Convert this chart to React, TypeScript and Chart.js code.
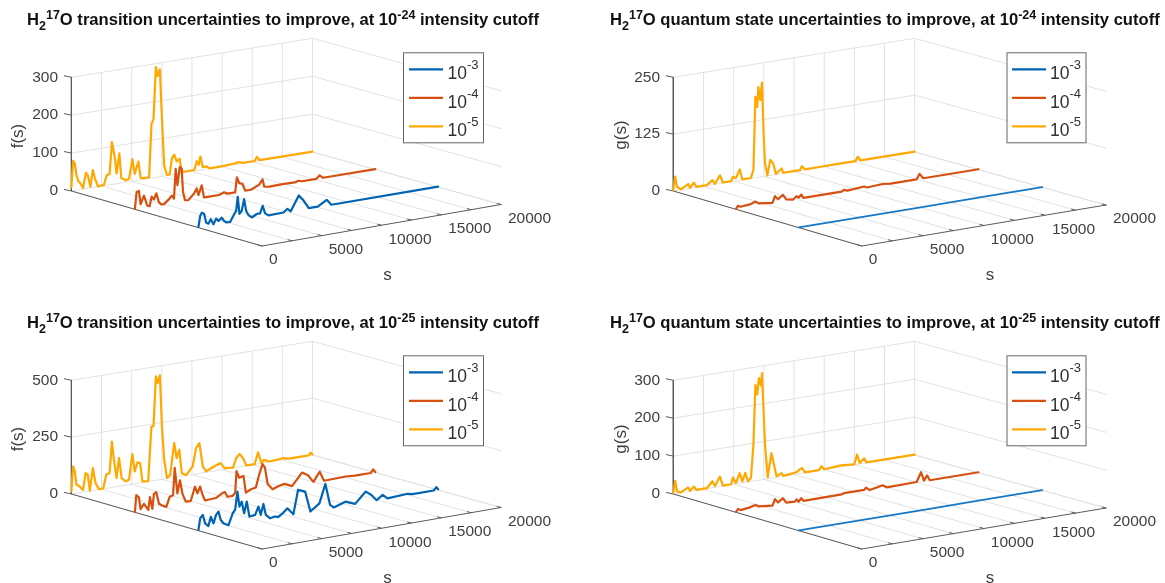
import React, { useEffect, useRef } from "react";
import { Chart, registerables } from "chart.js";
Chart.register(...registerables);

const S_MAX = 20000;
const S_GRID = [0, 2500, 5000, 7500, 10000, 12500, 15000, 17500, 20000];
const S_LABELS = [0, 5000, 10000, 15000, 20000];
const LEGEND_LABELS = ["-3", "-4", "-5"];
const COLORS = ["#0064B4", "#D8500F", "#FFA800"];
const FLAT_BLUE = "#1478C8";

// ---- Panel 1: transitions, 1e-24 ----
const p1BlueS = [0,140,280,470,640,830,1030,1250,1470,1670,1950,2140,2360,2640,2970,3140,3280,3420,3610,3810,3980,4170,4450,4860,5140,5360,5560,5840,7100,7420,7700,8370,8760,9200,9950,10700,11090,20000];
const p1BlueV = [2,30,38,34,10,6,17,2,16,9,16,6,1,1,19,27,64,18,25,55,23,11,3,10,10,29,8,1,2,10,2,40,25,2,2,16,1,1];
const p1RedS = [0,140,330,470,750,1030,1220,1390,1580,1780,2000,2220,2420,2840,3060,3250,3390,3530,3730,3890,4000,4170,4450,4920,5140,5280,5560,5750,6030,7000,7420,7700,8340,8480,8670,8950,9170,9650,10340,10620,10760,11180,12290,13300,13590,13900,15100,15370,15650,20000];
const p1RedV = [2,45,47,11,32,4,2,26,18,33,8,1,1,12,20,11,89,45,92,87,25,2,1,16,28,10,34,1,1,1,6,1,1,40,24,20,1,1,11,23,3,1,2,1,4,1,1,9,1,1];
const p1YellowS = [0,140,280,420,560,750,970,1200,1360,1580,1780,1950,2200,2700,2920,3170,3360,3590,3750,3980,4140,4500,4780,5060,5250,5560,5750,6030,6450,6640,6810,7010,7150,7340,7510,7700,7920,8150,8340,8530,8730,8980,9150,10200,10400,10560,10700,10900,11230,11450,12430,13540,13800,14230,15200,15400,15600,17430,20000];
const p1YellowV = [10,79,71,40,24,16,3,42,35,3,46,23,1,2,26,29,112,72,27,79,13,5,7,58,18,49,5,3,3,142,154,291,267,283,155,26,2,2,43,52,33,39,3,3,25,15,36,7,7,1,1,3,5,1,1,11,1,1,1];

// ---- Panel 2: quantum states, 1e-24 ----
const p2BlueS = [0,5000,10000,15000,20000];
const p2BlueV = [0.5,0.5,0.5,0.5,0.5];
const p2RedS = [0,155,370,1140,1300,1610,1850,3000,3210,3460,3860,4140,4700,5000,5160,5380,5560,8710,8900,9180,10570,10800,12100,12730,14900,15140,15450,20000];
const p2RedV = [1,7,4,6,7,10,5,1,15,7,15,4,1,7,3,9,1,1,4,1,4,1,3,1,1,12,1,1];
const p2YellowS = [0,155,310,620,1240,1390,1700,1920,2780,3240,3460,3860,4110,4790,4940,5190,5500,5720,6430,6640,6800,6950,7050,7200,7350,7480,7600,7790,8030,8280,8500,8960,9120,10500,10660,10900,12200,13900,15080,15300,15500,20000];
const p2YellowV = [2,31,8,1,10,1,11,1,1,10,1,18,1,1,10,6,24,1,1,18,178,155,198,169,207,95,28,1,34,25,1,11,1,1,9,1,1,1,1,10,1,1];

// ---- Panel 3: transitions, 1e-25 ----
const p3BlueS = [0,140,360,560,830,1030,1250,1470,1670,1860,2080,2500,2860,3060,3250,3420,3610,3810,4030,4250,4730,5000,5200,5420,5620,5980,6370,6670,7090,7420,7920,8310,8900,9340,10090,10590,10980,11290,12260,13070,13960,14430,14870,15370,15760,17460,17850,19630,19850,20000];
const p3BlueV = [3,53,66,27,13,52,21,56,69,30,14,1,51,64,143,75,95,42,92,24,27,61,23,69,19,1,5,1,16,32,1,105,92,1,30,111,15,1,18,1,47,28,1,20,1,6,1,1,14,3];
const p3RedS = [0,110,330,470,750,1110,1250,1450,1580,1780,2000,2280,2610,2890,3170,3310,3530,3750,3950,4230,4640,5000,5200,5420,5620,5840,6730,7280,7480,7700,8120,8340,8450,8670,9030,9230,9650,10060,10340,10620,10810,11040,11450,12010,12450,13070,13900,14400,14850,15370,15730,17540,18300,19620,19820,20000];
const p3RedV = [1,75,63,10,31,1,56,3,67,73,20,10,1,43,47,167,52,108,48,10,9,69,38,66,28,1,4,21,24,1,1,13,107,76,81,6,17,21,77,119,103,28,1,12,16,1,53,37,4,44,1,4,1,1,15,2];
const p3YellowS = [0,140,280,420,610,810,970,1170,1360,1530,1780,2000,2280,2640,2890,3170,3360,3530,3750,3950,4170,4500,4780,5060,5250,5480,5700,5890,6370,6640,6810,7010,7150,7340,7510,7700,7920,8200,8420,8530,8730,8950,9150,9510,10060,10340,10620,10900,11180,11870,12370,12700,13400,13680,13960,14230,14510,15200,15480,15760,15960,16430,17540,18040,19680,19850,20000];
const p3YellowV = [12,120,97,37,31,19,10,82,73,2,99,31,2,2,60,65,202,120,38,125,34,17,22,132,54,92,87,5,2,240,239,457,427,459,233,85,3,14,108,151,83,118,14,1,35,113,133,28,4,20,30,5,1,41,57,36,1,1,50,1,13,2,7,1,1,12,2];

// ---- Panel 4: quantum states, 1e-25 ----
const p4BlueS = [0,5000,10000,15000,20000];
const p4BlueV = [0.5,0.5,0.5,0.5,0.5];
const p4RedS = [0,155,370,1140,1300,1610,1850,3000,3210,3460,3860,4140,4850,5000,5160,5380,5560,8710,8900,10570,10720,11030,12100,12420,14900,15260,15510,15760,15980,20000];
const p4RedV = [1,8,4,7,9,11,6,2,18,8,17,4,3,8,1,9,1,2,4,4,9,1,8,1,2,26,2,15,1,1];
const p4YellowS = [0,155,310,620,1240,1390,1700,1920,2780,3240,3460,3860,4110,4790,4940,5190,5500,5720,5960,6180,6430,6640,6800,6950,7100,7260,7350,7480,7600,7820,8130,8340,8560,8960,9120,10200,10660,10900,12050,12270,12500,13900,14990,15230,15450,15820,16000,20000];
const p4YellowV = [3,34,5,1,11,1,11,1,1,17,3,26,1,1,18,2,27,4,25,2,9,96,253,227,269,249,281,179,91,4,66,34,3,9,1,5,14,1,1,10,1,4,1,26,2,13,1,1];

type Pt = { x: number; y: number };
type Series = { s: number[]; v: number[] };
type PanelCfg = {
  box: [number, number, number, number];
  A: Pt; B: Pt; C: Pt; D: Pt; zPx: number; zMax: number;
  zTicks: number[]; zLabel: string; kind: string; cutoff: string;
  titleX: number; titleY: number; zLabelX: number; zLabelY: number; zTickX: number;
  sLabelPos: Pt; legend: { x: number; y: number; w: number; h: number; lx0: number; lx1: number; tx: number };
  series: Series[]; flatBlue: boolean;
};

const panelShift = 303;
const makePanels = (): PanelCfg[] => {
  const left = { A: { x: 71.4, y: 191 }, B: { x: 262, y: 246 }, C: { x: 501, y: 204.5 }, D: { x: 312.5, y: 152 } };
  const right = { A: { x: 673.3, y: 191 }, B: { x: 861.7, y: 246 }, C: { x: 1106, y: 205 }, D: { x: 914.7, y: 152 } };
  const sh = (p: Pt, dy: number) => ({ x: p.x, y: p.y + dy });
  const shAll = (g: any, dy: number) => ({ A: sh(g.A, dy), B: sh(g.B, dy), C: sh(g.C, dy), D: sh(g.D, dy) });
  const legL = { x: 403.5, w: 80, h: 90, lx0: 409, lx1: 443, tx: 447.5 };
  const legR = { x: 1007, w: 79, h: 90, lx0: 1012, lx1: 1046, tx: 1050 };
  return [
    { box: [0, 0, 582, 291], ...shAll(left, 0), zPx: 113.7, zMax: 300, zTicks: [0, 100, 200, 300], zLabel: "f(s)", kind: "transition", cutoff: "-24", titleX: 27, titleY: 25, zLabelX: 18.6, zLabelY: 136, zTickX: 58, sLabelPos: { x: 387.5, y: 275 }, legend: { ...legL, y: 52.8 }, flatBlue: false,
      series: [{ s: p1BlueS, v: p1BlueV }, { s: p1RedS, v: p1RedV }, { s: p1YellowS, v: p1YellowV }] },
    { box: [582, 0, 583, 291], ...shAll(right, 0), zPx: 113.7, zMax: 250, zTicks: [0, 125, 250], zLabel: "g(s)", kind: "quantum state", cutoff: "-24", titleX: 610, titleY: 25, zLabelX: 621.8, zLabelY: 135, zTickX: 660, sLabelPos: { x: 990, y: 275 }, legend: { ...legR, y: 52.8 }, flatBlue: true,
      series: [{ s: p2BlueS, v: p2BlueV }, { s: p2RedS, v: p2RedV }, { s: p2YellowS, v: p2YellowV }] },
    { box: [0, 291, 582, 292], ...shAll(left, panelShift), zPx: 113.7, zMax: 500, zTicks: [0, 250, 500], zLabel: "f(s)", kind: "transition", cutoff: "-25", titleX: 27, titleY: 328, zLabelX: 18.6, zLabelY: 439, zTickX: 58, sLabelPos: { x: 387.5, y: 578 }, legend: { ...legL, y: 355.8 }, flatBlue: false,
      series: [{ s: p3BlueS, v: p3BlueV }, { s: p3RedS, v: p3RedV }, { s: p3YellowS, v: p3YellowV }] },
    { box: [582, 291, 583, 292], ...shAll(right, panelShift), zPx: 113.7, zMax: 300, zTicks: [0, 100, 200, 300], zLabel: "g(s)", kind: "quantum state", cutoff: "-25", titleX: 610, titleY: 328, zLabelX: 621.8, zLabelY: 439, zTickX: 660, sLabelPos: { x: 990, y: 578 }, legend: { ...legR, y: 355.8 }, flatBlue: true,
      series: [{ s: p4BlueS, v: p4BlueV }, { s: p4RedS, v: p4RedV }, { s: p4YellowS, v: p4YellowV }] },
  ];
};

const lerp = (a: Pt, b: Pt, t: number): Pt => ({ x: a.x + (b.x - a.x) * t, y: a.y + (b.y - a.y) * t });
const project = (c: PanelCfg, s: number, row: number, z: number): Pt => {
  const u = s / S_MAX;
  const f = lerp(lerp(c.B, c.C, u), lerp(c.A, c.D, u), row / 3);
  return { x: f.x, y: f.y - (z / c.zMax) * c.zPx };
};

const FONT = '"Liberation Sans", Arial, sans-serif';
const TEXT = "#404040";

const drawRuns = (ctx: CanvasRenderingContext2D, runs: [string, string, number][], x: number, y: number) => {
  let cx = x;
  ctx.textAlign = "left";
  ctx.textBaseline = "alphabetic";
  for (const [t, font, dy] of runs) {
    ctx.font = font;
    ctx.fillText(t, cx, y + dy);
    cx += ctx.measureText(t).width;
  }
};

const line = (pts: Pt[], color: string, width: number, order: number) => ({
  data: pts, borderColor: color, borderWidth: width, showLine: true, pointRadius: 0, tension: 0, order, borderJoinStyle: "round" as const, borderCapStyle: "round" as const,
});

function Panel({ cfg }: { cfg: PanelCfg }) {
  const ref = useRef<HTMLCanvasElement>(null);
  useEffect(() => {
    const [bx, by, bw, bh] = cfg.box;
    const GRID = "#e2e2e2";
    const AXIS = "#5a5a5a";
    const datasets: any[] = [];
    cfg.series.forEach((sr, i) => {
      const flat = cfg.flatBlue && i === 0;
      datasets.push(line(sr.s.map((s, k) => project(cfg, s, i + 1, sr.v[k])), flat ? FLAT_BLUE : COLORS[i], flat ? 1.8 : 2.2, i + 1));
    });
    for (const s of S_GRID) {
      datasets.push(line([project(cfg, s, 3, 0), project(cfg, s, 3, cfg.zMax)], GRID, 1, 20));
      datasets.push(line([project(cfg, s, 0, 0), project(cfg, s, 3, 0)], GRID, 1, 20));
      datasets.push(line([project(cfg, s, 0, 0), project(cfg, s, 0.06, 0)], AXIS, 1, 10));
    }
    for (const z of cfg.zTicks) {
      datasets.push(line([project(cfg, 0, 3, z), project(cfg, S_MAX, 3, z), project(cfg, S_MAX, 0, z)], GRID, 1, 20));
      const a = project(cfg, 0, 3, z);
      datasets.push(line([a, { x: a.x - 7, y: a.y - 1.5 }], AXIS, 1, 10));
    }
    datasets.push(line([project(cfg, 0, 3, cfg.zMax), project(cfg, 0, 3, 0), project(cfg, 0, 0, 0), project(cfg, S_MAX, 0, 0)], AXIS, 1, 10));

    const textPlugin = {
      id: "panelText",
      afterDatasetsDraw(chart: any) {
        const ctx: CanvasRenderingContext2D = chart.ctx;
        const X = (v: number) => chart.scales.x.getPixelForValue(v);
        const Y = (v: number) => chart.scales.y.getPixelForValue(v);
        ctx.save();
        // title
        ctx.fillStyle = "#111111";
        const b = `bold 16.6px ${FONT}`;
        const small = `bold 12.5px ${FONT}`;
        drawRuns(ctx, [["H", b, 0], ["2", small, 4.5], ["17", small, -6.5], [`O ${cfg.kind} uncertainties to improve, at 10`, b, 0], [cfg.cutoff, small, -6.5], [" intensity cutoff", b, 0]], X(cfg.titleX), Y(cfg.titleY));
        // z ticks
        ctx.fillStyle = TEXT;
        ctx.font = `15.5px ${FONT}`;
        ctx.textAlign = "right";
        ctx.textBaseline = "middle";
        for (const z of cfg.zTicks) {
          const p = project(cfg, 0, 3, z);
          ctx.fillText(String(z), X(cfg.zTickX), Y(p.y));
        }
        // s ticks
        ctx.textAlign = "left";
        for (const s of S_LABELS) {
          const p = project(cfg, s, 0, 0);
          ctx.fillText(String(s), X(p.x + 7), Y(p.y + 14));
        }
        // axis labels
        ctx.font = `17px ${FONT}`;
        ctx.textAlign = "center";
        ctx.fillText("s", X(cfg.sLabelPos.x), Y(cfg.sLabelPos.y));
        ctx.save();
        ctx.translate(X(cfg.zLabelX), Y(cfg.zLabelY));
        ctx.rotate(-Math.PI / 2);
        ctx.fillText(cfg.zLabel, 0, 0);
        ctx.restore();
        // legend
        const L = cfg.legend;
        ctx.fillStyle = "#ffffff";
        ctx.strokeStyle = "#666666";
        ctx.lineWidth = 1;
        ctx.fillRect(X(L.x), Y(L.y), L.w, L.h);
        ctx.strokeRect(X(L.x), Y(L.y), L.w, L.h);
        LEGEND_LABELS.forEach((lab, i) => {
          const ry = L.y + 16.5 + i * 28.5;
          ctx.strokeStyle = COLORS[i];
          ctx.lineWidth = 2.3;
          ctx.beginPath();
          ctx.moveTo(X(L.lx0), Y(ry));
          ctx.lineTo(X(L.lx1), Y(ry));
          ctx.stroke();
          ctx.fillStyle = "#303030";
          drawRuns(ctx, [["10", `17.5px ${FONT}`, 0], [lab, `13px ${FONT}`, -10]], X(L.tx), Y(ry + 9.7));
        });
        ctx.restore();
      },
    };

    const chart = new Chart(ref.current as HTMLCanvasElement, {
      type: "scatter",
      data: { datasets },
      options: {
        animation: false,
        responsive: false,
        layout: { padding: 0 },
        plugins: { legend: { display: false }, tooltip: { enabled: false }, title: { display: false } },
        scales: {
          x: { type: "linear", display: false, min: bx, max: bx + bw },
          y: { type: "linear", display: false, min: by, max: by + bh, reverse: true },
        },
      },
      plugins: [textPlugin],
    } as any);
    return () => chart.destroy();
  }, [cfg]);
  const [bx, by, bw, bh] = cfg.box;
  return <canvas ref={ref} width={bw} height={bh} style={{ position: "absolute", left: bx, top: by, width: bw, height: bh, filter: "blur(0.45px)" }} />;
}

const PANELS = makePanels();

export default function App() {
  return (
    <div style={{ position: "absolute", left: 0, top: 0, width: 1165, height: 583, background: "#fff", overflow: "hidden" }}>
      {PANELS.map((p, i) => <Panel key={i} cfg={p} />)}
    </div>
  );
}
